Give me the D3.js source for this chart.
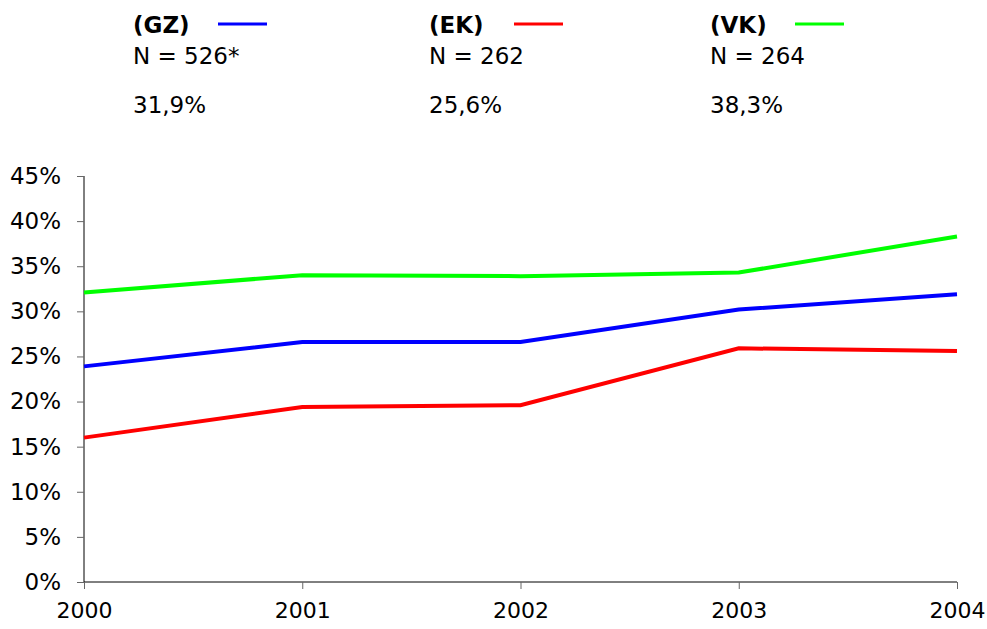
<!DOCTYPE html>
<html><head><meta charset="utf-8">
<script src="https://cdn.jsdelivr.net/npm/d3@7"></script>
<style>body{margin:0;background:#fff;} text{font-family:"DejaVu Sans",Verdana,sans-serif;fill:#000;}</style>
</head><body>
<svg id="c" width="987" height="629"></svg>
<script>
const years = ["2000","2001","2002","2003","2004"];
const seriesNames = ["(GZ)","(EK)","(VK)"];
const seriesN = ["N = 526*","N = 262","N = 264"];
const seriesPct = ["31,9%","25,6%","38,3%"];
const seriesColors = ["#0000ff","#ff0000","#00ff00"];
const gzValues = [23.9, 26.6, 26.6, 30.2, 31.9];
const ekValues = [16.0, 19.4, 19.6, 25.9, 25.6];
const vkValues = [32.1, 34.0, 33.9, 34.3, 38.3];
const yTicks = [0,5,10,15,20,25,30,35,40,45];

const svg = d3.select("#c");
const x = d3.scalePoint().domain(years).range([84, 957]);
const y = d3.scaleLinear().domain([0,45]).range([582, 176]);

// y axis
const ya = svg.append("g").attr("transform","translate(84,0)")
  .call(d3.axisLeft(y).tickValues(yTicks).tickFormat(d=>d+"%").tickSize(7).tickPadding(16));
ya.selectAll("text").style("font-size","23px");
ya.select(".domain").attr("stroke","#000").attr("d","M0,176V582");
ya.selectAll(".tick line").attr("stroke","#666");

// x axis
const xa = svg.append("g").attr("transform","translate(0,582)")
  .call(d3.axisBottom(x).tickSize(7).tickPadding(13));
xa.selectAll("text").style("font-size","22px");
xa.select(".domain").attr("stroke","#000").attr("d","M84,0H957");
xa.selectAll(".tick line").attr("stroke","#666");

const all = [gzValues, ekValues, vkValues];
const line = d3.line().x((d,i)=>x(years[i])).y(d=>y(d));
all.forEach((vals,k)=>{
  svg.append("path").datum(vals).attr("d",line).attr("fill","none")
    .attr("stroke",seriesColors[k]).attr("stroke-width",4).attr("stroke-linejoin","miter");
});

// legend
const legX = [133, 429, 710];
seriesNames.forEach((n,k)=>{
  const g = svg.append("g").attr("transform",`translate(${legX[k]},0)`);
  g.append("text").attr("x",0).attr("y",33).style("font-size","23px").style("font-weight","bold").text(n);
  g.append("line").attr("x1",85).attr("x2",134).attr("y1",24).attr("y2",24)
    .attr("stroke",seriesColors[k]).attr("stroke-width",3);
  g.append("text").attr("x",0).attr("y",64).style("font-size","23px").text(seriesN[k]);
  g.append("text").attr("x",0).attr("y",113).style("font-size","23px").text(seriesPct[k]);
});
</script>
</body></html>
